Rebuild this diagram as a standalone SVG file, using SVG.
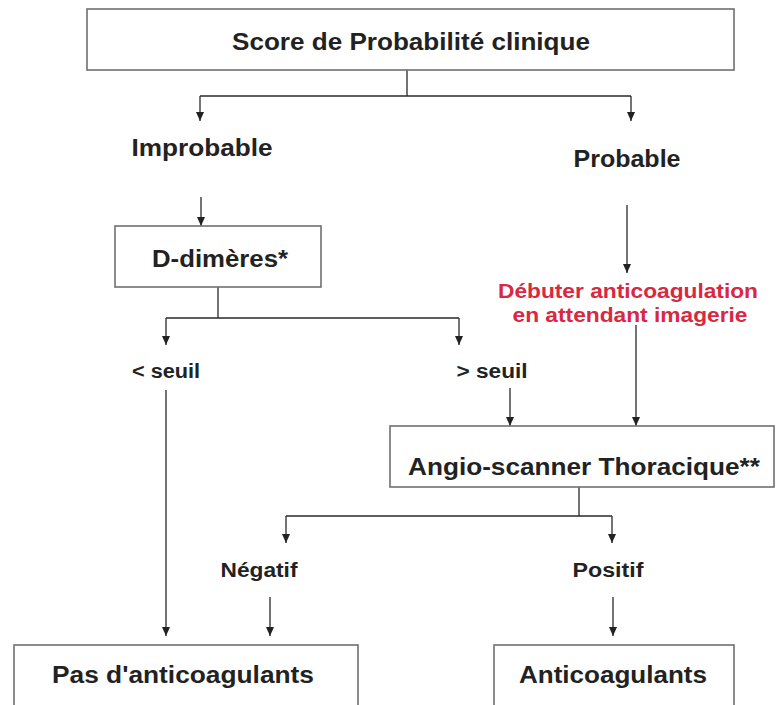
<svg xmlns="http://www.w3.org/2000/svg" width="776" height="705" viewBox="0 0 776 705">
<style>
.box{fill:#ffffff;stroke:#707070;stroke-width:1.6}
.t{font-family:"Liberation Sans",Arial,sans-serif;font-weight:bold;fill:#222222;text-anchor:middle}
.big{font-size:23px}
.mid{font-size:20px}
.red{font-family:"Liberation Sans",Arial,sans-serif;font-weight:bold;fill:#d9283f;text-anchor:middle;font-size:20px}
.c{fill:none;stroke:#2a2a2a;stroke-width:1.3}
.a{marker-end:url(#ah)}
</style>
<defs>
<marker id="ah" markerUnits="userSpaceOnUse" markerWidth="9" markerHeight="8" viewBox="0 0 9 8" refX="9" refY="4" orient="auto">
<path d="M0,0 L9,4 L0,8 Z" fill="#222222"/>
</marker>
</defs>
<rect width="776" height="705" fill="#ffffff"/>
<g id="connectors">
<path class="c" d="M407,70 V96 M200,96 H631"/>
<path class="c a" d="M200,96 V121"/>
<path class="c a" d="M631,96 V121"/>
<path class="c a" d="M201,197 V226"/>
<path class="c" d="M218,287 V318 M166,318 H459"/>
<path class="c a" d="M166,318 V345"/>
<path class="c a" d="M459,318 V345"/>
<path class="c a" d="M627,205 V273"/>
<path class="c a" d="M636,325 V426"/>
<path class="c a" d="M510,388 V426"/>
<path class="c a" d="M166,390 V636"/>
<path class="c" d="M579,487 V516 M286,516 H612"/>
<path class="c a" d="M286,516 V543"/>
<path class="c a" d="M612,516 V543"/>
<path class="c a" d="M270,597 V636"/>
<path class="c a" d="M613,597 V636"/>
</g>
<g id="score">
<rect class="box" x="87" y="9" width="647" height="61"/>
<text class="t big" x="411" y="50" textLength="358" lengthAdjust="spacingAndGlyphs">Score de Probabilité clinique</text>
</g>
<g id="improbable">
<text class="t big" x="202" y="156" textLength="141" lengthAdjust="spacingAndGlyphs">Improbable</text>
</g>
<g id="probable">
<text class="t big" x="627" y="167" textLength="107" lengthAdjust="spacingAndGlyphs">Probable</text>
</g>
<g id="ddimeres">
<rect class="box" x="115" y="226" width="206" height="61"/>
<text class="t big" x="220" y="267" textLength="136" lengthAdjust="spacingAndGlyphs">D-dimères*</text>
</g>
<g id="debuter">
<text class="red" x="628" y="298" textLength="260" lengthAdjust="spacingAndGlyphs">Débuter anticoagulation</text>
<text class="red" x="630" y="322" textLength="235" lengthAdjust="spacingAndGlyphs">en attendant imagerie</text>
</g>
<g id="seuil-bas">
<text class="t mid" x="166" y="378" textLength="68" lengthAdjust="spacingAndGlyphs">&lt; seuil</text>
</g>
<g id="seuil-haut">
<text class="t mid" x="492" y="378" textLength="71" lengthAdjust="spacingAndGlyphs">&gt; seuil</text>
</g>
<g id="angio">
<rect class="box" x="390" y="426" width="384" height="61"/>
<text class="t big" x="584" y="475" textLength="352" lengthAdjust="spacingAndGlyphs">Angio-scanner Thoracique**</text>
</g>
<g id="negatif">
<text class="t mid" x="259" y="577" textLength="77" lengthAdjust="spacingAndGlyphs">Négatif</text>
</g>
<g id="positif">
<text class="t mid" x="608" y="577" textLength="71" lengthAdjust="spacingAndGlyphs">Positif</text>
</g>
<g id="pas-anticoagulants">
<rect class="box" x="14" y="645" width="344" height="70"/>
<text class="t big" x="183" y="683" textLength="262" lengthAdjust="spacingAndGlyphs">Pas d'anticoagulants</text>
</g>
<g id="anticoagulants">
<rect class="box" x="494" y="645" width="240" height="70"/>
<text class="t big" x="613" y="683" textLength="188" lengthAdjust="spacingAndGlyphs">Anticoagulants</text>
</g>
</svg>
